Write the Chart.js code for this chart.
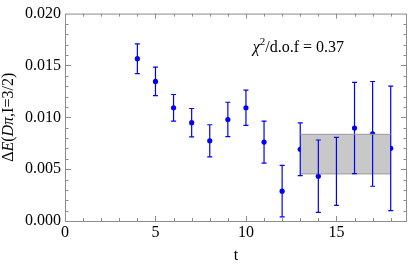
<!DOCTYPE html>
<html>
<head>
<meta charset="utf-8">
<script src="https://cdn.jsdelivr.net/npm/chart.js@4"></script>
<style>
  body { margin: 0; background: #fff; }
  canvas { display: block; }
</style>
</head>
<body>
<canvas id="chart" width="411" height="267"></canvas>
<script>
/**
 * Data
 */
const tValues = [4, 5, 6, 7, 8, 9, 10, 11, 12, 13, 14, 15, 16, 17, 18];
const deltaE = [0.01565, 0.01346, 0.01092, 0.00948, 0.00773, 0.00979, 0.01092, 0.00761,
                0.00288, 0.00692, 0.00432, 0.00479, 0.00896, 0.00840, 0.00701];
const deltaErr = [0.00143, 0.00137, 0.00128, 0.00137, 0.00155, 0.00166, 0.00170, 0.00202,
                  0.00248, 0.00255, 0.00349, 0.00328, 0.00440, 0.00505, 0.00600];
const fitRange = [13, 18];
const fitLow = 0.00454;
const fitHigh = 0.00836;
const xTicks = [0, 5, 10, 15];
const yTicks = [0.000, 0.005, 0.010, 0.015, 0.020];
const chiText = '0.37';

const FRAME_COLOR = '#8c8c8c';
const POINT_COLOR = '#0000ff';
const FONT = '"Liberation Serif", "DejaVu Serif", serif';

//////////////////////////////////////////////////////////////////

/**
 * Draw pieces of text with different fonts one after another
 */
function drawRuns(ctx, runs, x, y) {
    let total = 0;
    runs.forEach(function (r) {
        ctx.font = r.font;
        total += ctx.measureText(r.text).width;
    });
    let cx = x - total / 2;
    runs.forEach(function (r) {
        ctx.font = r.font;
        ctx.fillText(r.text, cx, y + (r.dy || 0));
        cx += ctx.measureText(r.text).width;
    });
}

/**
 * Frame, inner ticks, error bars and labels
 */
const framePlugin = {
    id: 'frame',
    afterDatasetDraw(chart, args) {
        // error bars go over the band, under the points
        if (args.index !== 1) return;
        const ctx = chart.ctx;
        const xs = chart.scales.x;
        const ys = chart.scales.y;
        ctx.save();
        ctx.strokeStyle = POINT_COLOR;
        ctx.lineWidth = 1.2;
        tValues.forEach(function (t, i) {
            const px = xs.getPixelForValue(t);
            const top = ys.getPixelForValue(deltaE[i] + deltaErr[i]);
            const bot = ys.getPixelForValue(deltaE[i] - deltaErr[i]);
            ctx.beginPath();
            ctx.moveTo(px, top);
            ctx.lineTo(px, bot);
            ctx.moveTo(px - 2.5, top);
            ctx.lineTo(px + 2.5, top);
            ctx.moveTo(px - 2.5, bot);
            ctx.lineTo(px + 2.5, bot);
            ctx.stroke();
        });
        ctx.restore();
    },
    afterDraw(chart) {
        const ctx = chart.ctx;
        const area = chart.chartArea;
        const xs = chart.scales.x;
        const ys = chart.scales.y;
        ctx.save();
        ctx.strokeStyle = FRAME_COLOR;
        ctx.lineWidth = 1;
        ctx.strokeRect(area.left + 0.5, area.top + 0.5, area.right - area.left - 1, area.bottom - area.top);

        ctx.beginPath();
        for (let t = 1; t <= 18; t++) {
            const px = Math.round(xs.getPixelForValue(t)) + 0.5;
            const len = t % 5 === 0 ? 5 : 3;
            ctx.moveTo(px, area.bottom);
            ctx.lineTo(px, area.bottom - len);
            ctx.moveTo(px, area.top);
            ctx.lineTo(px, area.top + len);
        }
        for (let k = 1; k < 20; k++) {
            const py = Math.round(ys.getPixelForValue(k * 0.001)) + 0.5;
            const len = k % 5 === 0 ? 6 : 3.5;
            ctx.moveTo(area.left, py);
            ctx.lineTo(area.left + len, py);
            ctx.moveTo(area.right, py);
            ctx.lineTo(area.right - len, py);
        }
        ctx.stroke();

        // chi^2 note
        ctx.fillStyle = '#000';
        ctx.textBaseline = 'alphabetic';
        drawRuns(ctx, [
            { text: 'χ', font: 'italic 16px ' + FONT },
            { text: '2', font: '11px ' + FONT, dy: -7 },
            { text: '/d.o.f = ' + chiText, font: '16px ' + FONT },
        ], xs.getPixelForValue(12.9), ys.getPixelForValue(0.0163));

        // x title
        ctx.textBaseline = 'middle';
        drawRuns(ctx, [{ text: 't', font: '16px ' + FONT }],
            (area.left + area.right) / 2, 256);

        // y title
        ctx.translate(9, (area.top + area.bottom) / 2);
        ctx.rotate(-Math.PI / 2);
        drawRuns(ctx, [
            { text: 'Δ', font: '16px ' + FONT },
            { text: 'E', font: 'italic 16px ' + FONT },
            { text: '(', font: '16px ' + FONT },
            { text: 'Dπ', font: 'italic 16px ' + FONT },
            { text: ',I=3/2)', font: '16px ' + FONT },
        ], 0, 0);
        ctx.restore();
    }
};

/**
 * Init chart
 */
function loadChart(id) {
    const points = tValues.map(function (t, i) {
        return { x: t, y: deltaE[i] };
    });
    const data = {
        datasets: [
            {
                type: 'line',
                data: [{ x: fitRange[0], y: fitHigh }, { x: fitRange[1], y: fitHigh }],
                borderColor: '#9a9a9a',
                borderWidth: 1,
                pointRadius: 0,
                fill: false,
            },
            {
                type: 'line',
                data: [{ x: fitRange[0], y: fitLow }, { x: fitRange[1], y: fitLow }],
                borderColor: '#9a9a9a',
                borderWidth: 1,
                pointRadius: 0,
                backgroundColor: '#c8c8c8',
                fill: '-1',
            },
            {
                type: 'scatter',
                data: points,
                backgroundColor: POINT_COLOR,
                borderWidth: 0,
                pointRadius: 2.6,
            },
        ]
    };
    const tickFont = { family: FONT, size: 16 };
    const config = {
        type: 'scatter',
        data: data,
        options: {
            responsive: false,
            animation: false,
            layout: { padding: { top: 8, right: 1, left: 0, bottom: 0 } },
            plugins: {
                legend: { display: false },
                tooltip: { enabled: false },
            },
            scales: {
                x: {
                    type: 'linear',
                    min: 0,
                    max: 18.9,
                    grid: { display: false, drawTicks: false },
                    border: { display: false },
                    afterBuildTicks: function (scale) {
                        scale.ticks = xTicks.map(function (v) { return { value: v }; });
                    },
                    ticks: {
                        color: '#000',
                        font: tickFont,
                        padding: 2,
                        maxRotation: 0,
                        callback: function (v) { return String(v); },
                    },
                    afterFit: function (scale) { scale.height = 46; },
                },
                y: {
                    min: 0,
                    max: 0.02,
                    grid: { display: false, drawTicks: false },
                    border: { display: false },
                    afterBuildTicks: function (scale) {
                        scale.ticks = yTicks.map(function (v) { return { value: v }; });
                    },
                    ticks: {
                        color: '#000',
                        font: tickFont,
                        padding: 4,
                        callback: function (v) { return v.toFixed(3); },
                    },
                    afterFit: function (scale) { scale.width = 65; },
                },
            },
        },
        plugins: [framePlugin],
    };
    new Chart(document.getElementById(id), config);
}

loadChart('chart');
</script>
</body>
</html>
